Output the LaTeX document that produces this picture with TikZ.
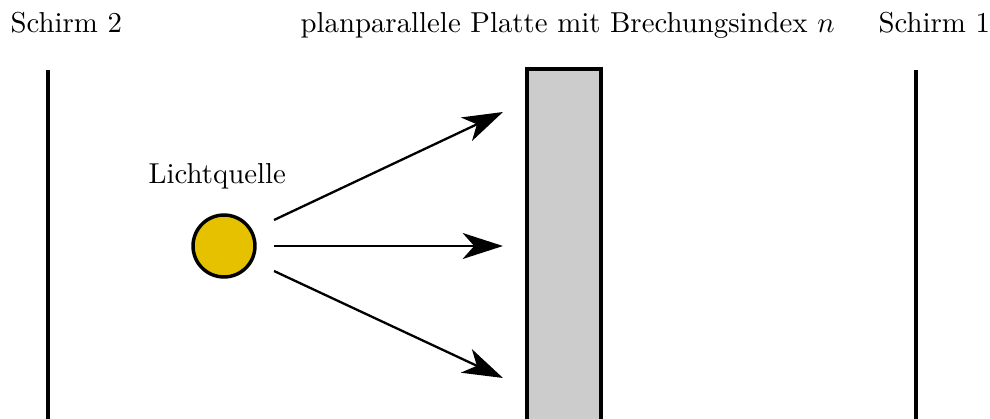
\documentclass[tikz,border=0pt]{standalone}
\usetikzlibrary{arrows.meta}
\definecolor{lampyellow}{RGB}{229,193,0}
\definecolor{plategray}{RGB}{204,204,204}
\begin{document}
\begin{tikzpicture}[x=0.347pt,y=-0.347pt,
  screenline/.style={line width=1.2pt},
  ray/.style={line width=0.8pt,-{Stealth[length=14pt,width=9pt,inset=4pt]}},
  lbl/.style={inner sep=0pt,font=\normalsize}]
\useasboundingbox (0,0) rectangle (990,419);
\clip (0,0) rectangle (990,419);
% screens
\coordinate (s2t) at (48,70);
\coordinate (s2b) at (48,430);
\coordinate (s1t) at (916,70);
\coordinate (s1b) at (916,430);
\draw[screenline] (s2t) -- (s2b);
\draw[screenline] (s1t) -- (s1b);
% plate
\draw[screenline,fill=plategray] (527,430) -- (527,69) -- (601,69) -- (601,430);
% source
\node[circle,draw,line width=1.2pt,fill=lampyellow,minimum size=21.5pt,inner sep=0pt] (src) at (224,246) {};
% rays
\coordinate (a1) at (274,220); \coordinate (b1) at (503,112);
\coordinate (a2) at (274,246); \coordinate (b2) at (503,246);
\coordinate (a3) at (274,271); \coordinate (b3) at (503,378);
\draw[ray] (a1) -- (b1);
\draw[ray] (a2) -- (b2);
\draw[ray] (a3) -- (b3);
% labels
\node[lbl,anchor=base west] (t1) at (10,32) {Schirm 2};
\node[lbl,anchor=base west] (t2) at (300,32) {planparallele Platte mit Brechungsindex $n$};
\node[lbl,anchor=base west] (t3) at (878,32) {Schirm 1};
\node[lbl,anchor=base west] (t4) at (148,184) {Lichtquelle};
\end{tikzpicture}
\end{document}
